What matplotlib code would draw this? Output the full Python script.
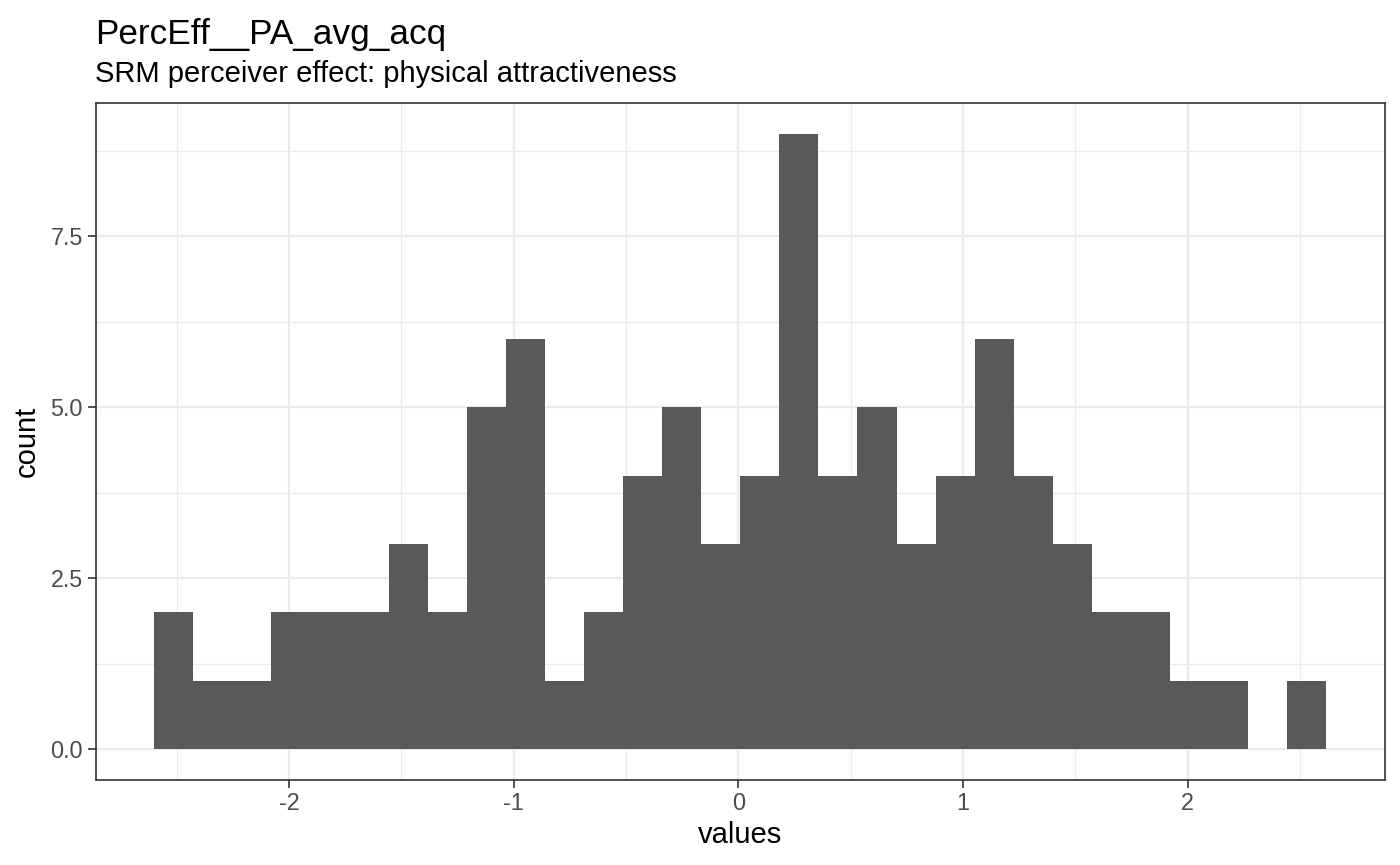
import matplotlib
matplotlib.use("Agg")
import matplotlib.pyplot as plt
from matplotlib.ticker import FixedLocator

plt.rcParams['font.family'] = ['Liberation Sans', 'DejaVu Sans']

title = "PercEff__PA_avg_acq"
subtitle = "SRM perceiver effect: physical attractiveness"
xlabel = "values"
ylabel = "count"

bin_start = -2.6
bin_width = 0.1739
counts = [2, 1, 1, 2, 2, 2, 3, 2, 5, 6,
          1, 2, 4, 5, 3, 4, 9, 4, 5, 3,
          4, 6, 4, 3, 2, 2, 1, 1, 0, 1]
x_major = [-2, -1, 0, 1, 2]
x_minor = [-2.5, -1.5, -0.5, 0.5, 1.5, 2.5]
y_major = [0.0, 2.5, 5.0, 7.5]
y_minor = [1.25, 3.75, 6.25, 8.75]

edges = [bin_start + i * bin_width for i in range(len(counts) + 1)]

fig = plt.figure(figsize=(14, 8.65), dpi=100)
ax = fig.add_axes([95.5 / 1400, 1 - 780 / 865, (1385 - 95.5) / 1400, (780 - 103) / 865])

ax.bar(edges[:-1], counts, width=bin_width, align='edge', color='#595959',
       edgecolor='none', linewidth=0, zorder=3)

lo, hi = edges[0], edges[-1]
pad = (hi - lo) * 0.05
ax.set_xlim(lo - pad, hi + pad)
ymax = max(counts)
ax.set_ylim(-ymax * 0.05, ymax * 1.05)

ax.xaxis.set_major_locator(FixedLocator(x_major))
ax.xaxis.set_minor_locator(FixedLocator(x_minor))
ax.yaxis.set_major_locator(FixedLocator(y_major))
ax.yaxis.set_minor_locator(FixedLocator(y_minor))
ax.set_xticklabels([str(v) for v in x_major])
ax.set_yticklabels([f"{v:.1f}" for v in y_major])

ax.grid(which='major', color='#EBEBEB', linewidth=1.6, zorder=0)
ax.grid(which='minor', color='#EBEBEB', linewidth=0.8, zorder=0)
ax.set_axisbelow(True)

for s in ax.spines.values():
    s.set_color('#333333')
    s.set_linewidth(1.2)

ax.tick_params(which='major', length=5.5, width=1.2, color='#333333',
               labelcolor='#4D4D4D', labelsize=16.8, pad=3.5)
ax.tick_params(which='minor', length=0)

ax.set_xlabel(xlabel, fontsize=21, color='black', labelpad=4)
ax.set_ylabel(ylabel, fontsize=21, color='black', labelpad=7)

fig.text(95 / 1400, 1 - 44 / 865, title, fontsize=25.3, color='black', va='baseline', ha='left')
fig.text(95 / 1400, 1 - 82 / 865, subtitle, fontsize=21, color='black', va='baseline', ha='left')

fig.savefig("out.png", dpi=100, facecolor='white')
